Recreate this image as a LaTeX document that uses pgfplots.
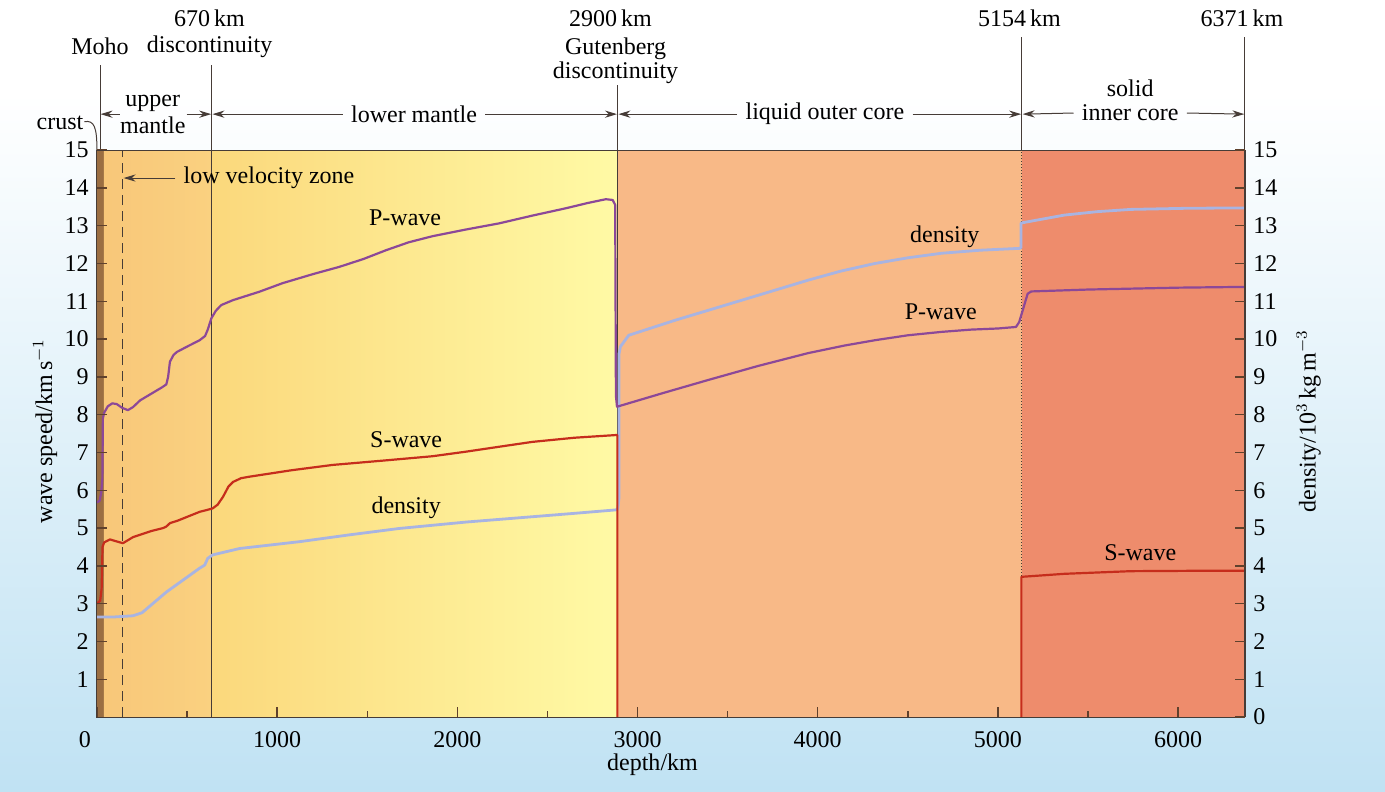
\documentclass[border=0pt]{standalone}
\usepackage{fontspec}
\setmainfont{Liberation Serif}
\usepackage{pgfplots}
\pgfplotsset{compat=1.18}
\usetikzlibrary{arrows.meta}

\definecolor{bgblue}{RGB}{192,226,243}
\definecolor{crustc}{RGB}{155,110,66}
\definecolor{umL}{RGB}{248,199,121}
\definecolor{umR}{RGB}{250,209,128}
\definecolor{lmL}{RGB}{251,216,124}
\definecolor{lmR}{RGB}{255,250,165}
\definecolor{ocC}{RGB}{248,185,135}
\definecolor{icC}{RGB}{238,140,108}
\definecolor{pC}{RGB}{140,72,152}
\definecolor{sC}{RGB}{198,45,28}
\definecolor{dC}{RGB}{168,180,226}
\definecolor{tickc}{RGB}{95,65,45}
\definecolor{linec}{RGB}{70,60,55}

\tikzset{arr/.style={linec, line width=0.5pt, -{Stealth[length=6pt,width=3.6pt]}}}

\begin{document}
\fontsize{12}{14.4}\selectfont
\begin{tikzpicture}
\begin{axis}[
  scale only axis, width=574pt, height=283.5pt,
  xmin=0, xmax=6371, ymin=0, ymax=15,
  clip=false, axis on top,
  xtick={0,1000,2000,3000,4000,5000,6000},
  xticklabels={\makebox[0pt][r]{0\hspace{3pt}},1000,2000,3000,4000,5000,6000},
  minor xtick={500,1500,2500,3500,4500,5500},
  ytick={1,2,3,4,5,6,7,8,9,10,11,12,13,14,15},
  xtick pos=left, ytick pos=left,
  tick align=inside,
  major tick length=5pt, minor tick length=3pt,
  every tick/.style={tickc, line width=0.7pt},
  axis line style={linec, line width=0.5pt},
  xticklabel style={yshift=-3pt},
  /pgf/number format/assume math mode=true,
]
% page background
\fill[white] (axis cs:-538,18.97) rectangle (axis cs:7148,-1.958);
\shade[top color=white, bottom color=bgblue] (axis cs:-538,16.5) rectangle (axis cs:7148,-1.958);
% layers
\fill[crustc] (axis cs:0,0) rectangle (axis cs:38,15);
\shade[left color=umL, right color=umR] (axis cs:38,0) rectangle (axis cs:637,15);
\shade[left color=lmL, right color=lmR] (axis cs:637,0) rectangle (axis cs:2890,15);
\fill[ocC] (axis cs:2890,0) rectangle (axis cs:5133,15);
\fill[icC] (axis cs:5133,0) rectangle (axis cs:6371,15);
% boundary lines
\draw[linec, line width=0.5pt] (axis cs:637,0) -- (axis cs:637,17.25);
\draw[linec, line width=0.5pt] (axis cs:17,15) -- (axis cs:17,17.25);
\draw[linec, line width=0.5pt] (axis cs:2890,0) -- (axis cs:2890,16.72);
\draw[linec, line width=0.5pt, densely dotted] (axis cs:5133,0) -- (axis cs:5133,15);
\draw[linec, line width=0.5pt] (axis cs:5133,15) -- (axis cs:5133,17.99);
\draw[linec, line width=0.5pt] (axis cs:6371,15) -- (axis cs:6371,17.99);
\draw[linec, line width=0.5pt, dash pattern=on 5pt off 3pt] (axis cs:144,0) -- (axis cs:144,15);

% curves
\addplot[dC, line width=1.4pt, line join=round] coordinates {
(0,2.65)(100,2.65)(200,2.68)(250,2.76)(386,3.31)(570,3.94)(598,4.02)(615,4.2)(642,4.29)(792,4.46)(1124,4.64)(1400,4.82)(1678,4.99)(2050,5.16)(2416,5.3)(2650,5.39)(2877,5.48)(2890,5.5)(2897,5.8)(2897,9.6)(2905,9.8)(2951,10.1)(3210,10.5)(3580,11.03)(3948,11.56)(4130,11.8)(4318,12.0)(4500,12.15)(4687,12.27)(4900,12.35)(5121,12.4)(5128,12.42)(5128,13.07)(5369,13.28)(5550,13.37)(5737,13.43)(6050,13.46)(6371,13.47)};
\addplot[pC, line width=1.1pt, line join=round] coordinates {
(0,5.68)(15,5.72)(24,5.95)(30,6.3)(33,7.9)(40,8.05)(60,8.22)(85,8.3)(110,8.28)(140,8.18)(172,8.12)(200,8.2)(240,8.38)(300,8.55)(360,8.72)(385,8.8)(395,9.0)(405,9.4)(425,9.58)(444,9.66)(500,9.8)(570,9.97)(600,10.08)(615,10.25)(635,10.55)(660,10.75)(690,10.9)(755,11.03)(900,11.25)(1031,11.48)(1200,11.72)(1345,11.91)(1480,12.12)(1604,12.35)(1730,12.56)(1861,12.72)(2050,12.9)(2231,13.06)(2420,13.27)(2602,13.46)(2724,13.6)(2824,13.7)(2862,13.68)(2876,13.55)(2880,8.5)(2886,8.21)(3140,8.57)(3394,8.92)(3670,9.29)(3948,9.63)(4150,9.83)(4318,9.97)(4500,10.1)(4687,10.19)(4850,10.25)(5000,10.28)(5100,10.32)(5118,10.45)(5165,11.2)(5185,11.26)(5500,11.31)(6000,11.36)(6371,11.38)};
\addplot[sC, line width=1.1pt, line join=round] coordinates {
(0,3.0)(18,3.08)(26,3.4)(31,4.5)(40,4.62)(72,4.7)(100,4.66)(144,4.6)(200,4.76)(300,4.92)(367,5.0)(385,5.04)(405,5.13)(450,5.2)(570,5.43)(611,5.48)(642,5.52)(670,5.62)(700,5.83)(730,6.1)(755,6.22)(800,6.32)(847,6.36)(1080,6.53)(1307,6.67)(1600,6.79)(1861,6.9)(2046,7.02)(2230,7.15)(2416,7.28)(2650,7.39)(2877,7.46)(2888,7.46)(2888,0)};
\addplot[sC, line width=1.1pt, line join=round] coordinates {
(5130,0)(5130,3.71)(5369,3.79)(5737,3.86)(6100,3.87)(6371,3.87)};

% curve labels
\node at (axis cs:1710,13.2) {P-wave};
\node at (axis cs:1716,7.33) {S-wave};
\node at (axis cs:1716,5.53) {density};
\node at (axis cs:4705,12.70) {density};
\node at (axis cs:4683,10.71) {P-wave};
\node at (axis cs:5790,4.34) {S-wave};

% low velocity zone
\node[anchor=west] (lvz) at (axis cs:435,14.26) {low velocity zone};
\draw[arr] (lvz.west) -- (axis cs:148,14.26);

% top annotations
\node at (axis cs:17,17.74) {Moho};
\node at (axis cs:625,18.48) {670\,km};
\node at (axis cs:625,17.72) {discontinuity};
\node at (axis cs:2850,18.48) {2900\,km};
\node at (axis cs:2878,17.67) {Gutenberg};
\node at (axis cs:2878,17.04) {discontinuity};
\node at (axis cs:5120,18.48) {5154\,km};
\node at (axis cs:6354,18.48) {6371\,km};

\node at (axis cs:-205,15.71) {crust};
\draw[linec, line width=0.5pt] (axis cs:-70,15.75) .. controls (axis cs:-15,15.8) and (axis cs:0,15.6) .. (axis cs:0,15.0);

\node at (axis cs:310,16.24) {upper};
\node at (axis cs:310,15.66) {mantle};
\draw[arr] (axis cs:127,15.95) -- (axis cs:20,15.95);
\draw[arr] (axis cs:498,15.95) -- (axis cs:634,15.95);

\node (lm) at (axis cs:1760,15.95) {lower mantle};
\draw[arr] (lm.west) -- (axis cs:641,15.95);
\draw[arr] (lm.east) -- (axis cs:2886,15.95);

\node (oc) at (axis cs:4040,15.95) {liquid outer core};
\draw[arr] (oc.west) -- (axis cs:2894,15.95);
\draw[arr] (oc.east) -- (axis cs:5129,15.95);

\node at (axis cs:5734,16.64) {solid};
\node (ic) at (axis cs:5734,15.98) {inner core};
\draw[arr] (ic.west) -- (axis cs:5137,15.95);
\draw[arr] (ic.east) -- (axis cs:6367,15.95);

% axis labels
\node[rotate=90] at (axis cs:-288,7.57) {wave speed/km\,s$^{-1}$};
\node[rotate=90] at (axis cs:6725,7.83) {density/10$^{3}$\,kg\,m$^{-3}$};
\node at (axis cs:3083,-1.27) {depth/km};
\end{axis}

\begin{axis}[
  scale only axis, width=574pt, height=283.5pt,
  xmin=0, xmax=6371, ymin=0, ymax=15,
  axis x line=none, axis y line*=right,
  ytick={0,1,2,3,4,5,6,7,8,9,10,11,12,13,14,15},
  tick align=inside,
  major tick length=5pt,
  every tick/.style={tickc, line width=0.7pt},
  axis line style={linec, line width=0.5pt},
  /pgf/number format/assume math mode=true,
]
\end{axis}
\end{tikzpicture}
\end{document}
